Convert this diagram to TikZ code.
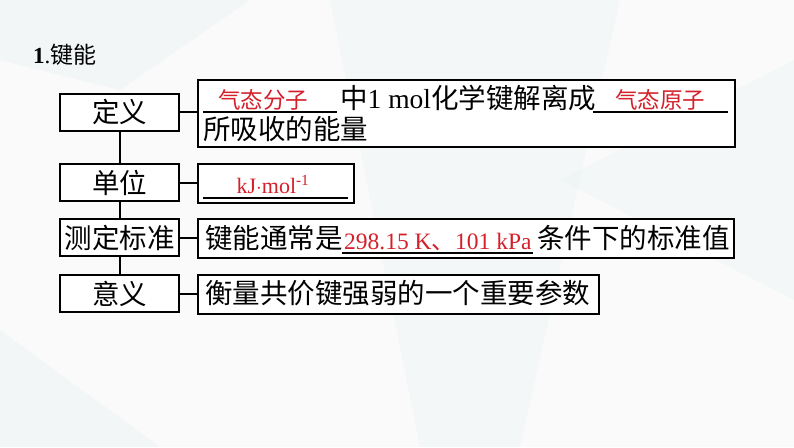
\documentclass[tikz,border=0pt]{standalone}
\usepackage{fontspec}
\setmainfont{Liberation Serif}
\newfontfamily\cjk{Noto Sans CJK SC}
\definecolor{ansred}{RGB}{212,32,42}
\definecolor{bgteal}{RGB}{150,200,200}
\begin{document}
\begin{tikzpicture}[x=1pt,y=-1pt,
  lbox/.style={draw=black,line width=2pt,fill=white,minimum width=119pt,minimum height=37pt,inner sep=0pt,font=\fontsize{27.5}{27.5}\selectfont\cjk},
  rbox/.style={draw=black,line width=2pt,fill=white,inner sep=0pt,anchor=north west},
  link/.style={line width=2pt},
  txt/.style={inner sep=0pt,anchor=base west,font=\fontsize{27.5}{27.5}\selectfont},
  ans/.style={inner sep=0pt,anchor=base,text=ansred,font=\fontsize{22}{22}\selectfont},
  uline/.style={line width=1.5pt}]
\useasboundingbox (0,0) rectangle (794,447);
% background
\fill[white!96!gray] (0,0) rectangle (794,447);
\fill[bgteal,opacity=0.07] (0,0) -- (250,0) -- (120,90) -- (0,60) -- cycle;
\fill[bgteal,opacity=0.06] (330,0) -- (620,0) -- (520,447) -- (420,447) -- cycle;
\fill[bgteal,opacity=0.07] (0,330) -- (160,447) -- (0,447) -- cycle;
\fill[bgteal,opacity=0.05] (560,180) -- (794,60) -- (794,300) -- cycle;

% title
\node[txt,font=\fontsize{23}{23}\selectfont] (title) at (33,63) {\textbf{1}.{\cjk 键能}};

% left boxes
\node[lbox] (d1) at (119.5,112) {定义};
\node[lbox] (d2) at (119.5,182.5) {单位};
\node[lbox] (d3) at (119.5,237.5) {测定标准};
\node[lbox] (d4) at (119.5,293.5) {意义};
\draw[link] (d1.south) -- (d2.north);
\draw[link] (d2.south) -- (d3.north);
\draw[link] (d3.south) -- (d4.north);

% right boxes
\node[rbox,minimum width=537pt,minimum height=67pt] (r1) at (197,79) {};
\node[rbox,minimum width=156pt,minimum height=39pt] (r2) at (197,163) {};
\node[rbox,minimum width=536pt,minimum height=39pt] (r3) at (197,218) {};
\node[rbox,minimum width=401pt,minimum height=39pt] (r4) at (197,274) {};
\draw[link] (d1.east) -- (r1.west |- d1.east);
\draw[link] (d2.east) -- (r2.west |- d2.east);
\draw[link] (d3.east) -- (r3.west |- d3.east);
\draw[link] (d4.east) -- (r4.west |- d4.east);

% box 1
\coordinate (u1a) at (203,112);
\coordinate (u1b) at (337,112);
\draw[uline] (u1a) -- (u1b);
\node[ans,font=\fontsize{22.5}{22.5}\selectfont\cjk] (a1) at (263,108) {气态分子};
\node[txt] (t1) at (340,108) {{\cjk 中}1 mol{\cjk 化学键解离成}};
\coordinate (u2a) at (593,112);
\coordinate (u2b) at (728,112);
\draw[uline] (u2a) -- (u2b);
\node[ans,font=\fontsize{22.5}{22.5}\selectfont\cjk] (a2) at (660,108) {气态原子};
\node[txt,font=\fontsize{27.5}{27.5}\selectfont\cjk] (t2) at (203,139) {所吸收的能量};

% box 2
\coordinate (u3a) at (203,198);
\coordinate (u3b) at (348,198);
\draw[uline] (u3a) -- (u3b);
\node[ans,font=\fontsize{22}{22}\selectfont] (a3) at (273,193) {kJ$\cdot$mol\textsuperscript{-1}};

% box 3
\node[txt,font=\fontsize{27.5}{27.5}\selectfont\cjk] (t3) at (205,248) {键能通常是};
\node[ans,anchor=base west,font=\fontsize{23.5}{23.5}\selectfont] (a4) at (344,249) {298.15 K{\cjk 、}101 kPa};
\coordinate (u4a) at (342,253);
\coordinate (u4b) at (533,253);
\draw[uline] (u4a) -- (u4b);
\node[txt,font=\fontsize{27.5}{27.5}\selectfont\cjk] (t4) at (537,248) {条件下的标准值};

% box 4
\node[txt,font=\fontsize{27.5}{27.5}\selectfont\cjk] (t5) at (205,303) {衡量共价键强弱的一个重要参数};
\end{tikzpicture}
\end{document}
